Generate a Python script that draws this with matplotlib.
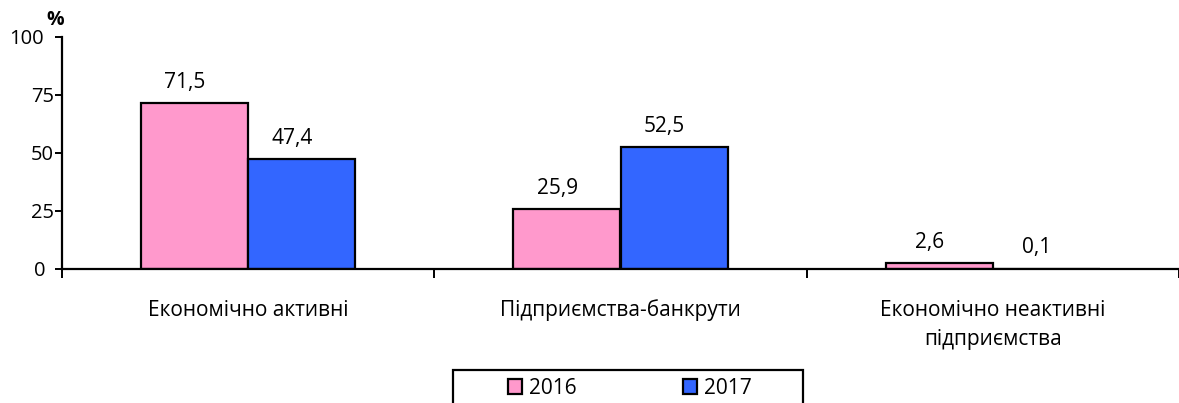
import numpy as np
import matplotlib.pyplot as plt
from matplotlib.patches import Rectangle
from matplotlib.transforms import ScaledTranslation

plt.rcParams['font.family'] = ['Open Sans', 'DejaVu Sans']

categories = ["Економічно активні", "Підприємства-банкрути", "Економічно неактивні\nпідприємства"]
years = ["2016", "2017"]
values_2016 = [71.5, 25.9, 2.6]
values_2017 = [47.4, 52.5, 0.1]
labels_2016 = ["71,5", "25,9", "2,6"]
labels_2017 = ["47,4", "52,5", "0,1"]
colors = ["#ff99cc", "#3366ff"]

fs = 15

fig = plt.figure(figsize=(11.79, 4.03), dpi=100)
ax = fig.add_axes([62 / 1179, 1 - 269 / 403, 1 - 62 / 1179, (269 - 37) / 403])

x = np.arange(len(categories))
w = 0.288
b1 = ax.bar(x - w / 2, values_2016, w, color=colors[0], edgecolor="black", linewidth=1.6, label=years[0])
b2 = ax.bar(x + w / 2, values_2017, w, color=colors[1], edgecolor="black", linewidth=1.6, label=years[1])

for bars, labs in [(b1, labels_2016), (b2, labels_2017)]:
    for bar, lab in zip(bars, labs):
        ax.annotate(lab, (bar.get_x() + bar.get_width() / 2, bar.get_height()),
                    xytext=(-7, 11), textcoords="offset points", ha="center", va="baseline",
                    fontsize=fs)

ax.set_xlim(-0.5, 2.5)
ax.set_ylim(0, 100)
ax.set_yticks([0, 25, 50, 75, 100])
ax.set_yticklabels(["0", "25", "50", "75", "100"], fontsize=14.5)
ax.set_xticks(x)
ax.set_xticklabels(categories, fontsize=fs, linespacing=1.5)
ax.set_xticks([-0.5, 0.5, 1.5, 2.5], minor=True)
ax.tick_params(axis="x", which="major", length=0, pad=22)
ax.tick_params(axis="x", which="minor", length=6.5, width=1.4, direction="out")
ax.tick_params(axis="y", length=5, width=1.4, direction="out", pad=1)

# excel nudges the "0" and "100" labels to the left
ylabs = ax.get_yticklabels()
for lab, dx in [(ylabs[0], 8), (ylabs[-1], 10)]:
    lab.set_transform(lab.get_transform() + ScaledTranslation(-dx / 100, 0, fig.dpi_scale_trans))

for s in ["top", "right"]:
    ax.spines[s].set_visible(False)
ax.spines["left"].set_linewidth(1.6)
ax.spines["bottom"].set_linewidth(1.6)

fig.text(55 / 1179, 1 - 20 / 403, "%", fontsize=14, fontweight="bold", ha="center", va="center")

leg = fig.legend(loc="center left", bbox_to_anchor=(508 / 1179, 1 - 388 / 403),
                 ncol=2, fontsize=fs, frameon=False,
                 handlelength=0.67, handleheight=0.72, handletextpad=0.34,
                 columnspacing=5.1, borderpad=0, borderaxespad=0)
for h in leg.legend_handles:
    h.set_linewidth(1.6)
fig.patches.append(Rectangle((453 / 1179, -0.1), 350 / 1179, 0.1 + 1 - 370 / 403,
                             transform=fig.transFigure, fill=False, edgecolor="black", linewidth=1.6))

plt.savefig("out.png", dpi=100)
